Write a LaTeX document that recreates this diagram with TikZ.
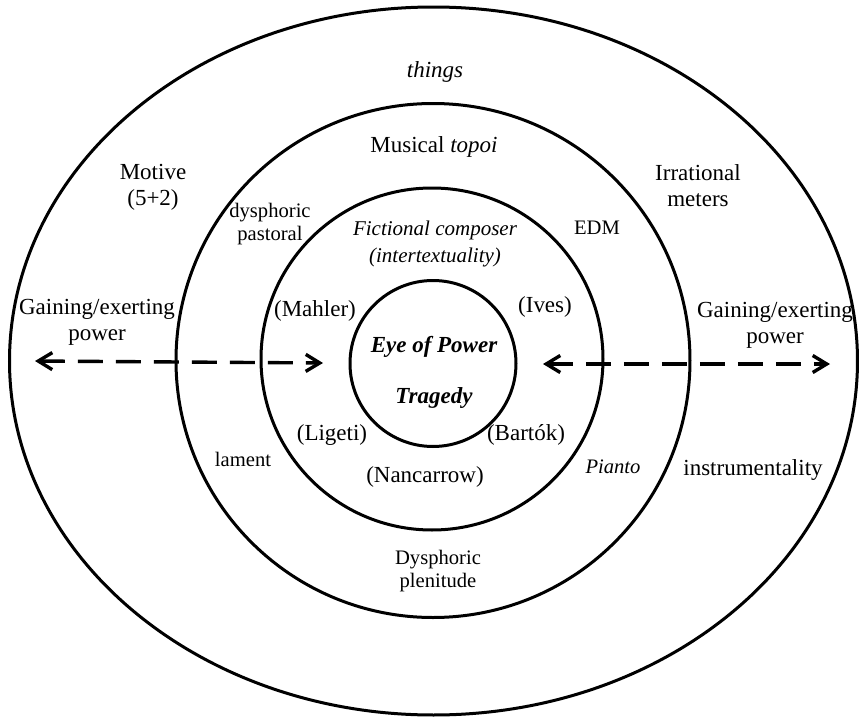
\documentclass[tikz,border=0pt]{standalone}
\usepackage{fontspec}
\setmainfont{Liberation Serif}
\usetikzlibrary{arrows.meta}
\begin{document}
\begin{tikzpicture}[x=0.5pt,y=-0.5pt,
  ring/.style={draw, line width=1.5pt, inner sep=0pt, outer sep=0pt},
  powerarrow/.style={line width=1.7pt, dash pattern=on 12.5pt off 6.5pt,
    {Straight Barb[length=7pt,width=8.5pt]}-{Straight Barb[length=7pt,width=8.5pt]}},
  big/.style={font=\fontsize{11.5}{13}\selectfont, align=center, inner sep=0pt},
  small/.style={font=\fontsize{10.3}{11.5}\selectfont, align=center, inner sep=0pt}]
\useasboundingbox (0,0) rectangle (859,718);

% concentric rings
\coordinate (outerc) at (433.5,361);
\draw[line width=1.5pt] (outerc) ellipse [x radius=212pt, y radius=177pt];
\node[ring, circle, minimum size=257pt] (middle) at (433,360.5) {};
\node[ring, circle, minimum size=171pt] (inner) at (432,359) {};
\node[ring, circle, minimum size=83pt] (core) at (433,363.5) {};

% double-headed dashed arrows
\coordinate (la) at (35,361);
\coordinate (lb) at (323,363);
\coordinate (ra) at (543,364);
\coordinate (rb) at (830,364);
\draw[powerarrow] (la) -- (lb);
\draw[powerarrow] (ra) -- (rb);

% outer ring
\node[big] (things) at (435,72) {\itshape things};
\node[big] (motive) at (153,187) {Motive\\(5+2)};
\node[big] (irrational) at (698,186) {Irrational\\meters};
\node[big] (gainl) at (97,322) {Gaining/exerting\\power};
\node[big] (gainr) at (775,325) {Gaining/exerting\\power};
\node[big] (instr) at (753,470) {instrumentality};

% middle ring
\node[big] (topoi) at (434,147) {Musical \textit{topoi}};
\node[small] (pastoral) at (270,224.5) {dysphoric\\pastoral};
\node[small] (edm) at (597,228) {EDM};
\node[small] (lament) at (243,459) {lament};
\node[small] (pianto) at (613,467) {\itshape Pianto};
\node[small] (plenitude) at (438,571) {Dysphoric\\plenitude};

% inner ring
\node[small, font=\fontsize{10.5}{13.5}\selectfont\itshape] (fictional) at (435,243.5) {Fictional composer\\(intertextuality)};
\node[big] (mahler) at (315,311) {(Mahler)};
\node[big] (ives) at (545,307) {(Ives)};
\node[big] (ligeti) at (332,435) {(Ligeti)};
\node[big] (bartok) at (526,435) {(Bartók)};
\node[big] (nancarrow) at (425,477) {(Nancarrow)};

% core
\node[big, font=\fontsize{11.5}{13}\selectfont\bfseries\itshape] (eye) at (434,347) {Eye of Power};
\node[big, font=\fontsize{11.5}{13}\selectfont\bfseries\itshape] (tragedy) at (434,398) {Tragedy};
\end{tikzpicture}
\end{document}
